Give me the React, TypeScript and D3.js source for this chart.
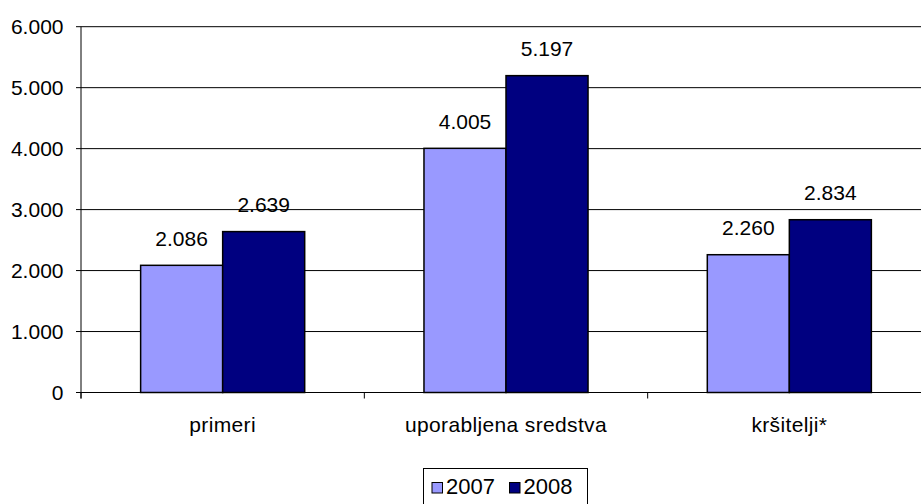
import React from "react";
import * as d3 from "d3";

const categories = ["primeri", "uporabljena sredstva", "kršitelji*"];
const seriesNames = ["2007", "2008"];
const values2007 = [2086, 4005, 2260];
const values2008 = [2639, 5197, 2834];
const yTicks = [0, 1000, 2000, 3000, 4000, 5000, 6000];
const colors = ["#9999FF", "#000080"];

const width = 921;
const height = 504;
const font = "'Liberation Sans', Arial, sans-serif";

const fmt = (v: number) => (v === 0 ? "0" : d3.format(",")(v).replace(/,/g, "."));

export default function App() {
  const left = 81;
  const right = 931;
  const top = 26.7;
  const bottom = 392.5;

  const y = d3.scaleLinear().domain([0, 6000]).range([bottom, top]);
  const x0 = d3.scaleBand().domain(categories).range([left, right]).padding(0);
  const x1 = d3
    .scaleBand()
    .domain(seriesNames)
    .range([0, x0.bandwidth()])
    .paddingInner(0)
    .paddingOuter(0.727);

  const series = [values2007, values2008];
  const boundaries = [...categories.map((c) => x0(c) as number), right];

  return (
    <svg
      width={width}
      height={height}
      style={{ position: "absolute", left: 0, top: 0, background: "#fff" }}
      fontFamily={font}
    >
      {/* gridlines */}
      {yTicks.map((t) => (
        <line key={t} x1={left} x2={right} y1={y(t)} y2={y(t)} stroke="#000" strokeWidth={1} />
      ))}
      {/* y axis */}
      <line x1={left} x2={left} y1={top} y2={bottom + 6} stroke="#000" />
      {yTicks.map((t) => (
        <g key={"yt" + t}>
          <line x1={left - 5} x2={left} y1={y(t)} y2={y(t)} stroke="#000" />
          <text x={left - 17.5} y={y(t)} dy="0.36em" textAnchor="end" fontSize={21}>
            {fmt(t)}
          </text>
        </g>
      ))}
      {/* category ticks */}
      {boundaries.map((b, i) => (
        <line key={"xt" + i} x1={b} x2={b} y1={bottom} y2={bottom + 6} stroke="#000" />
      ))}
      {/* bars */}
      {categories.map((c, ci) =>
        seriesNames.map((s, si) => {
          const v = series[si][ci];
          const bx = (x0(c) as number) + (x1(s) as number);
          return (
            <g key={c + s}>
              <rect
                x={bx}
                y={y(v)}
                width={x1.bandwidth()}
                height={y(0) - y(v)}
                fill={colors[si]}
                stroke="#000"
                strokeWidth={1.5}
              />
              <text
                x={bx + x1.bandwidth() / 2}
                y={y(v) - 19.5}
                textAnchor="middle"
                fontSize={21}
              >
                {fmt(v)}
              </text>
            </g>
          );
        })
      )}
      {/* category labels */}
      {categories.map((c) => (
        <text
          key={"cl" + c}
          x={(x0(c) as number) + x0.bandwidth() / 2}
          y={431.5}
          textAnchor="middle"
          fontSize={21}
          letterSpacing={0.35}
        >
          {c}
        </text>
      ))}
      {/* legend */}
      <rect x={423.5} y={468.5} width={164} height={40} fill="#fff" stroke="#000" />
      {seriesNames.map((s, i) => {
        const lx = 432 + i * 77.5;
        return (
          <g key={"lg" + s}>
            <rect x={lx} y={482.5} width={10.5} height={10.5} fill={colors[i]} stroke="#000" />
            <text x={lx + 14} y={493.5} fontSize={22}>
              {s}
            </text>
          </g>
        );
      })}
    </svg>
  );
}
